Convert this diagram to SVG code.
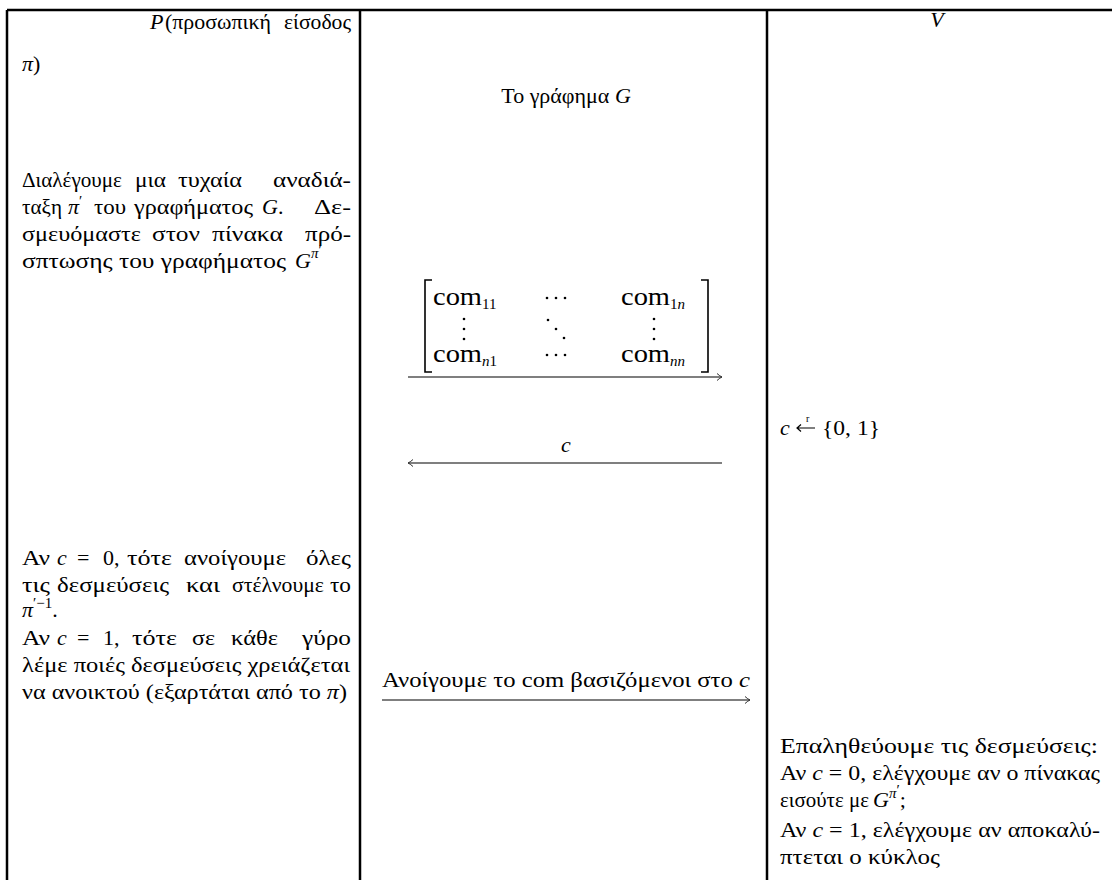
<svg xmlns="http://www.w3.org/2000/svg" width="1112" height="880" viewBox="0 0 1112 880" font-family="'Liberation Serif', Tinos, serif">
<style>
text{font-family:"Liberation Serif","Tinos","Times New Roman",serif;font-size:22px;fill:#000}
.i{font-style:italic}
.s{font-size:15px}
.m{font-size:25px}
.grid{stroke:#000;stroke-width:2.5;fill:none}
.arr{stroke:#555;stroke-width:1.3;fill:none}
.br{stroke:#000;stroke-width:1.6;fill:none}
.dot{fill:#000}
</style>
<defs>
<marker id="ah" markerWidth="10" markerHeight="10" refX="8" refY="5" orient="auto-start-reverse" markerUnits="userSpaceOnUse"><path d="M3,1.5 Q6,4.2 8,5 Q6,5.8 3,8.5" fill="none" stroke="#333" stroke-width="1"/></marker>
</defs>
<rect width="1112" height="880" fill="#fff"/>
<g id="table">
<path class="grid" d="M7,10H1112M7,10V880M360,10V880M767,10V880"/>
</g>
<g id="prover">
<text x="150" y="29"><tspan class="i">P</tspan></text>
<text x="165" y="29" textLength="106" lengthAdjust="spacingAndGlyphs">(προσωπική</text>
<text x="284" y="29" textLength="67" lengthAdjust="spacingAndGlyphs">είσοδος</text>
<text x="22" y="71"><tspan class="i">π</tspan>)</text>
<text x="22" y="187" textLength="100" lengthAdjust="spacingAndGlyphs">Διαλέγουμε</text>
<text x="135" y="187" textLength="31" lengthAdjust="spacingAndGlyphs">μια</text>
<text x="178" y="187" textLength="64" lengthAdjust="spacingAndGlyphs">τυχαία</text>
<text x="273" y="187" textLength="78" lengthAdjust="spacingAndGlyphs">αναδιά-</text>
<text x="22" y="214" textLength="40" lengthAdjust="spacingAndGlyphs">ταξη</text>
<text x="68" y="214"><tspan class="i">π</tspan><tspan class="s" dy="-8">′</tspan></text>
<text x="94" y="214" textLength="32" lengthAdjust="spacingAndGlyphs">του</text>
<text x="134" y="214" textLength="119" lengthAdjust="spacingAndGlyphs">γραφήματος</text>
<text x="262" y="214"><tspan class="i">G</tspan>.</text>
<text x="314" y="214" textLength="37" lengthAdjust="spacingAndGlyphs">Δε-</text>
<text x="22" y="241" textLength="119" lengthAdjust="spacingAndGlyphs">σμευόμαστε</text>
<text x="152" y="241" textLength="48" lengthAdjust="spacingAndGlyphs">στον</text>
<text x="212" y="241" textLength="71" lengthAdjust="spacingAndGlyphs">πίνακα</text>
<text x="305" y="241" textLength="46" lengthAdjust="spacingAndGlyphs">πρό-</text>
<text x="22" y="268" textLength="264" lengthAdjust="spacingAndGlyphs">σπτωσης του γραφήματος</text>
<text x="295" y="268"><tspan class="i">G</tspan><tspan class="i s" dy="-10">π</tspan><tspan class="s" dy="-3">′</tspan></text>
<text x="22" y="565" textLength="28" lengthAdjust="spacingAndGlyphs">Αν</text>
<text x="57" y="565" class="i">c</text>
<text x="77" y="565">=</text>
<text x="103" y="565">0,</text>
<text x="127" y="565" textLength="45" lengthAdjust="spacingAndGlyphs">τότε</text>
<text x="184" y="565" textLength="102" lengthAdjust="spacingAndGlyphs">ανοίγουμε</text>
<text x="306" y="565" textLength="45" lengthAdjust="spacingAndGlyphs">όλες</text>
<text x="22" y="592" textLength="28" lengthAdjust="spacingAndGlyphs">τις</text>
<text x="57" y="592" textLength="112" lengthAdjust="spacingAndGlyphs">δεσμεύσεις</text>
<text x="186" y="592" textLength="34" lengthAdjust="spacingAndGlyphs">και</text>
<text x="232" y="592" textLength="92" lengthAdjust="spacingAndGlyphs">στέλνουμε</text>
<text x="330" y="592" textLength="21" lengthAdjust="spacingAndGlyphs">το</text>
<text x="22" y="617"><tspan class="i">π</tspan><tspan class="s" dy="-9">′−1</tspan><tspan dy="9">.</tspan></text>
<text x="22" y="645" textLength="28" lengthAdjust="spacingAndGlyphs">Αν</text>
<text x="57" y="645" class="i">c</text>
<text x="77" y="645">=</text>
<text x="103" y="645">1,</text>
<text x="132" y="645" textLength="45" lengthAdjust="spacingAndGlyphs">τότε</text>
<text x="192" y="645" textLength="23" lengthAdjust="spacingAndGlyphs">σε</text>
<text x="231" y="645" textLength="47" lengthAdjust="spacingAndGlyphs">κάθε</text>
<text x="302" y="645" textLength="49" lengthAdjust="spacingAndGlyphs">γύρο</text>
<text x="22" y="672" textLength="328" lengthAdjust="spacingAndGlyphs">λέμε ποιές δεσμεύσεις χρειάζεται</text>
<text x="22" y="699" textLength="325" lengthAdjust="spacingAndGlyphs">να ανοικτού (εξαρτάται από το <tspan class="i">π</tspan>)</text>
</g>
<g id="channel">
<text x="566" y="103" text-anchor="middle">Το γράφημα <tspan class="i">G</tspan></text>
<path class="br" d="M432,280H425V372H432M701,280H708V372H701"/>
<text x="433" y="305"><tspan class="m" textLength="49" lengthAdjust="spacingAndGlyphs">com</tspan><tspan class="s" dy="4">11</tspan></text>
<text x="621" y="305"><tspan class="m" textLength="49" lengthAdjust="spacingAndGlyphs">com</tspan><tspan class="s" dy="4">1<tspan class="i">n</tspan></tspan></text>
<text x="433" y="362"><tspan class="m" textLength="49" lengthAdjust="spacingAndGlyphs">com</tspan><tspan class="s i" dy="4">n</tspan><tspan class="s">1</tspan></text>
<text x="621" y="362"><tspan class="m" textLength="49" lengthAdjust="spacingAndGlyphs">com</tspan><tspan class="s i" dy="4">nn</tspan></text>
<circle class="dot" cx="547" cy="298" r="1.3"/><circle class="dot" cx="556" cy="298" r="1.3"/><circle class="dot" cx="565" cy="298" r="1.3"/>
<circle class="dot" cx="547" cy="355" r="1.3"/><circle class="dot" cx="556" cy="355" r="1.3"/><circle class="dot" cx="565" cy="355" r="1.3"/>
<circle class="dot" cx="464" cy="319" r="1.3"/><circle class="dot" cx="464" cy="329" r="1.3"/><circle class="dot" cx="464" cy="339" r="1.3"/>
<circle class="dot" cx="654" cy="319" r="1.3"/><circle class="dot" cx="654" cy="329" r="1.3"/><circle class="dot" cx="654" cy="339" r="1.3"/>
<circle class="dot" cx="548" cy="320" r="1.3"/><circle class="dot" cx="556" cy="329" r="1.3"/><circle class="dot" cx="564" cy="338" r="1.3"/>
<text x="566" y="452" text-anchor="middle" class="i">c</text>
<text x="382" y="687" textLength="368" lengthAdjust="spacingAndGlyphs">Ανοίγουμε το com βασιζόμενοι στο <tspan class="i">c</tspan></text>
</g>
<g id="verifier">
<text x="937" y="27" text-anchor="middle" class="i">V</text>
<text x="780" y="435" class="i">c</text>
<path d="M797,428H815M801,424.5L797,428L801,431.5" fill="none" stroke="#000" stroke-width="1.2"/>
<text x="806" y="422" style="font-size:10px">r</text>
<text x="822" y="435" textLength="58" lengthAdjust="spacingAndGlyphs">{0, 1}</text>
<text x="780" y="753" textLength="318" lengthAdjust="spacingAndGlyphs">Επαληθεύουμε τις δεσμεύσεις:</text>
<text x="780" y="780" textLength="320" lengthAdjust="spacingAndGlyphs">Αν <tspan class="i">c</tspan> = 0, ελέγχουμε αν ο πίνακας</text>
<text x="780" y="807" textLength="89" lengthAdjust="spacingAndGlyphs">εισούτε με</text>
<text x="873" y="807"><tspan class="i">G</tspan><tspan class="i s" dy="-9">π</tspan><tspan class="s" dy="-3">′</tspan><tspan dy="12">;</tspan></text>
<text x="780" y="837" textLength="320" lengthAdjust="spacingAndGlyphs">Αν <tspan class="i">c</tspan> = 1, ελέγχουμε αν αποκαλύ-</text>
<text x="780" y="864" textLength="160" lengthAdjust="spacingAndGlyphs">πτεται ο κύκλος</text>
</g>
<g id="connectors">
<line class="arr" x1="408" y1="377" x2="722" y2="377" marker-end="url(#ah)"/>
<line class="arr" x1="408" y1="463" x2="722" y2="463" marker-start="url(#ah)"/>
<line class="arr" x1="382" y1="700" x2="750" y2="700" marker-end="url(#ah)"/>
</g>
</svg>
